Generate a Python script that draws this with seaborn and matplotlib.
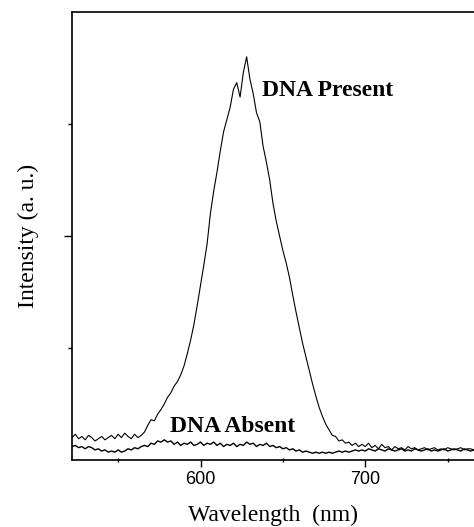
import numpy as np
import pandas as pd
import matplotlib
matplotlib.use("Agg")
import matplotlib.pyplot as plt
import seaborn as sns
from matplotlib.ticker import FixedLocator, NullFormatter

# ---- data ----
wavelength_start = 522
wavelength_step = 2

dna_present = [
    0.20, 0.23, 0.19, 0.21, 0.18, 0.22, 0.20, 0.17, 0.19, 0.21,
    0.18, 0.20, 0.22, 0.19, 0.23, 0.20, 0.24, 0.21, 0.19, 0.23,
    0.20, 0.22, 0.25, 0.31, 0.36, 0.35, 0.41, 0.45, 0.50, 0.56,
    0.60, 0.66, 0.70, 0.76, 0.84, 0.95, 1.07, 1.21, 1.38, 1.56,
    1.74, 1.93, 2.20, 2.40, 2.57, 2.76, 2.93, 3.04, 3.15, 3.31,
    3.37, 3.24, 3.46, 3.60, 3.40, 3.27, 3.10, 3.02, 2.80, 2.66,
    2.50, 2.29, 2.13, 2.00, 1.87, 1.76, 1.63, 1.47, 1.32, 1.18,
    1.04, 0.92, 0.80, 0.68, 0.57, 0.47, 0.39, 0.32, 0.27, 0.22,
    0.21, 0.17, 0.18, 0.15, 0.16, 0.13, 0.15, 0.12, 0.14, 0.12,
    0.15, 0.11, 0.13, 0.10, 0.14, 0.11, 0.12, 0.09, 0.12, 0.10,
    0.11, 0.09, 0.12, 0.10, 0.11, 0.09, 0.10, 0.11, 0.09, 0.10,
    0.11, 0.09, 0.10, 0.09, 0.11, 0.10, 0.09, 0.10, 0.11, 0.09,
    0.10, 0.10, 0.09,
]

dna_absent = [
    0.12, 0.13, 0.11, 0.12, 0.10, 0.12, 0.11, 0.09, 0.10, 0.08,
    0.09, 0.07, 0.08, 0.07, 0.09, 0.07, 0.08, 0.10, 0.09, 0.11,
    0.10, 0.12, 0.13, 0.12, 0.15, 0.14, 0.17, 0.16, 0.18, 0.16,
    0.17, 0.14, 0.16, 0.13, 0.15, 0.14, 0.16, 0.13, 0.14, 0.16,
    0.13, 0.15, 0.14, 0.16, 0.13, 0.15, 0.12, 0.14, 0.13, 0.15,
    0.12, 0.14, 0.13, 0.16, 0.14, 0.15, 0.12, 0.14, 0.13, 0.15,
    0.12, 0.13, 0.11, 0.12, 0.10, 0.11, 0.09, 0.10, 0.08, 0.09,
    0.07, 0.08, 0.07, 0.06, 0.07, 0.06, 0.07, 0.06, 0.07, 0.06,
    0.07, 0.08, 0.07, 0.08, 0.07, 0.08, 0.09, 0.08, 0.09, 0.08,
    0.10, 0.09, 0.08, 0.10, 0.09, 0.08, 0.10, 0.09, 0.08, 0.09,
    0.10, 0.08, 0.09, 0.08, 0.10, 0.09, 0.08, 0.09, 0.10, 0.08,
    0.09, 0.08, 0.09, 0.10, 0.08, 0.09, 0.10, 0.09, 0.08, 0.10,
    0.09, 0.08, 0.09,
]

wavelength = [wavelength_start + wavelength_step * i for i in range(len(dna_present))]

x_major_ticks = [600, 700]
x_minor_ticks = [550, 650, 750]
y_major_ticks = [2]
y_minor_ticks = [1, 3]

label_present = "DNA Present"
label_absent = "DNA Absent"

df = pd.DataFrame({"wavelength": wavelength,
                   "present": dna_present,
                   "absent": dna_absent})

# ---- style ----
sns.set_style("ticks")
plt.rcParams["font.family"] = ["Liberation Sans", "DejaVu Sans"]
plt.rcParams["text.color"] = "black"
plt.rcParams["axes.labelcolor"] = "black"
plt.rcParams["xtick.color"] = "black"
plt.rcParams["ytick.color"] = "black"

fig = plt.figure(figsize=(4.74, 5.27), dpi=100)
ax = fig.add_axes([72 / 474, 67 / 527, (474 - 72) / 474, (460 - 12) / 527])

sns.lineplot(data=df, x="wavelength", y="absent", ax=ax, color="black",
             linewidth=1.0)
sns.lineplot(data=df, x="wavelength", y="present", ax=ax, color="black",
             linewidth=0.8)

ax.set_xlim(522, 766)
ax.set_ylim(0, 4)

ax.xaxis.set_major_locator(FixedLocator(x_major_ticks))
ax.xaxis.set_minor_locator(FixedLocator(x_minor_ticks))
ax.yaxis.set_major_locator(FixedLocator(y_major_ticks))
ax.yaxis.set_minor_locator(FixedLocator(y_minor_ticks))
ax.yaxis.set_major_formatter(NullFormatter())

ax.tick_params(axis="x", which="major", length=5, width=1, direction="out",
               labelsize=13, pad=3, colors="black")
ax.tick_params(axis="x", which="minor", length=3, width=1, direction="inout")
ax.tick_params(axis="y", which="major", length=6, width=1, direction="out")
ax.tick_params(axis="y", which="minor", length=3, width=1, direction="out")

for side in ["left", "bottom", "top"]:
    ax.spines[side].set_visible(True)
    ax.spines[side].set_color("black")
    ax.spines[side].set_linewidth(1.2)
ax.spines["right"].set_visible(False)

serif = ["Liberation Serif", "DejaVu Serif"]
ax.set_xlabel("Wavelength  (nm)", fontsize=17, family=serif, labelpad=12,
              color="black")
ax.set_ylabel("Intensity (a. u.)", fontsize=17, family=serif, labelpad=14,
              color="black")

ax.text(637.5, 3.30, label_present, fontsize=17, fontweight="bold",
        family=serif, ha="left", va="center", color="black")
ax.text(581.5, 0.30, label_absent, fontsize=17, fontweight="bold",
        family=serif, ha="left", va="center", color="black")

fig.savefig("out.png", dpi=100, facecolor="white")
